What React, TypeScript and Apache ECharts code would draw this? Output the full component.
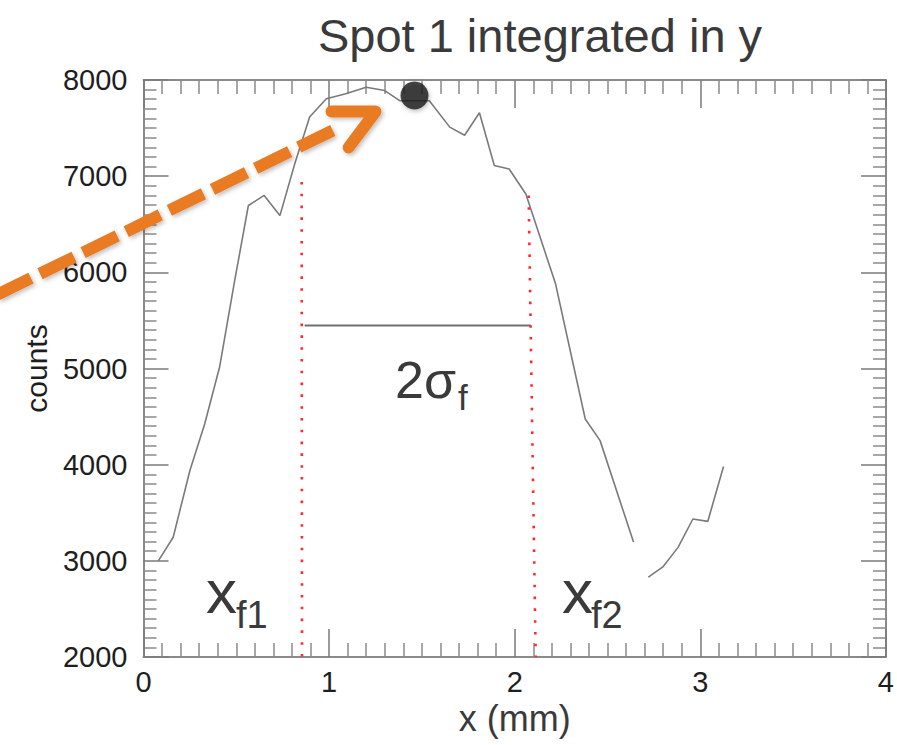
import React, { useEffect, useRef } from "react";
import * as echarts from "echarts";

// ---- data ----
const X_MIN = 0;
const X_MAX = 4;
const X_STEP = 1;
const Y_MIN = 2000;
const Y_MAX = 8000;
const Y_STEP = 1000;

// integrated profile, visible part left of the "x_f2" label
const segment1X = [0.08, 0.16, 0.25, 0.33, 0.41, 0.49, 0.565, 0.65, 0.735, 0.815, 0.895, 0.985, 1.085, 1.2, 1.3, 1.38, 1.54, 1.65, 1.73, 1.81, 1.89, 1.97, 2.06, 2.22, 2.38, 2.46, 2.64];
const segment1Counts = [3000, 3245, 3940, 4425, 5015, 5900, 6695, 6800, 6590, 7130, 7615, 7805, 7855, 7925, 7890, 7785, 7785, 7510, 7425, 7660, 7110, 7075, 6815, 5880, 4475, 4250, 3195];
// visible part right of the label
const segment2X = [2.72, 2.8, 2.88, 2.96, 3.04, 3.125];
const segment2Counts = [2830, 2940, 3140, 3435, 3410, 3980];

// peak marker
const peakX = [1.46];
const peakCounts = [7840];

// FWHM-like markers
const xf1X = [0.852, 0.854];
const xf1Counts = [6940, 2000];
const xf2X = [2.075, 2.113];
const xf2Counts = [6800, 2000];
const widthX = [0.868, 2.087];
const widthCounts = [5447, 5447];

// orange pointer arrow (in data units, drawn through the axis scales)
const arrowShaftX = [1.02, -0.86];
const arrowShaftCounts = [7475, 5700];
const arrowHeadX = [1.013, 1.25, 1.105];
const arrowHeadCounts = [7672, 7672, 7298];

const zip = (xs: number[], ys: number[]) => xs.map((x, i) => [x, ys[i]]);

const FONT = "'Liberation Sans', Arial, Helvetica, sans-serif";
const ORANGE = "#E97B22";

export default function App() {
  const ref = useRef<HTMLDivElement>(null);

  useEffect(() => {
    if (!ref.current) return;
    const chart = echarts.init(ref.current, undefined, { renderer: "svg" });

    const axisLine = { show: true, onZero: false, lineStyle: { color: "#8a8a8a", width: 2 } };
    const xTick = { show: true, inside: true, length: 28, lineStyle: { color: "#7a7a7a", width: 1.5 } };
    const xMinor = { show: true, splitNumber: 10, length: 14, lineStyle: { color: "#8a8a8a", width: 1.5 } };
    const yTick = { show: true, inside: true, length: 25, lineStyle: { color: "#7a7a7a", width: 1.5 } };
    const yMinor = { show: true, splitNumber: 10, length: 13, lineStyle: { color: "#8a8a8a", width: 1.5 } };

    const txt = (text: string, x: number, y: number, size: number, align = "left") => ({
      type: "text",
      x,
      y,
      silent: true,
      z: 100,
      style: {
        text,
        fontSize: size,
        fontFamily: FONT,
        fill: "#3a3a3a",
        textAlign: align,
        align,
        textVerticalAlign: "middle",
        verticalAlign: "middle",
      },
    });

    const plain = (v: number) => String(v);

    chart.setOption({
      animation: false,
      backgroundColor: "#ffffff",
      grid: { left: 143.5, right: 9.5, top: 80, bottom: 88, containLabel: false },
      xAxis: [
        {
          type: "value",
          min: X_MIN,
          max: X_MAX,
          interval: X_STEP,
          position: "bottom",
          axisLine,
          axisTick: xTick,
          minorTick: xMinor,
          splitLine: { show: false },
          axisLabel: { show: true, fontSize: 29, fontFamily: FONT, color: "#1e1e1e", margin: 10, formatter: plain },
          name: "x (mm)",
          nameLocation: "middle",
          nameGap: 43,
          nameTextStyle: { fontSize: 36, fontFamily: FONT, color: "#3a3a3a" },
        },
        {
          type: "value",
          min: X_MIN,
          max: X_MAX,
          interval: X_STEP,
          position: "top",
          axisLine,
          axisTick: xTick,
          minorTick: xMinor,
          splitLine: { show: false },
          axisLabel: { show: false },
        },
      ],
      yAxis: [
        {
          type: "value",
          min: Y_MIN,
          max: Y_MAX,
          interval: Y_STEP,
          position: "left",
          axisLine,
          axisTick: yTick,
          minorTick: yMinor,
          splitLine: { show: false },
          axisLabel: { show: true, fontSize: 29, fontFamily: FONT, color: "#1e1e1e", margin: 16, formatter: plain },
          name: "counts",
          nameLocation: "middle",
          nameGap: 92,
          nameTextStyle: { fontSize: 30, fontFamily: FONT, color: "#1e1e1e" },
        },
        {
          type: "value",
          min: Y_MIN,
          max: Y_MAX,
          interval: Y_STEP,
          position: "right",
          axisLine,
          axisTick: yTick,
          minorTick: yMinor,
          splitLine: { show: false },
          axisLabel: { show: false },
        },
      ],
      series: [
        {
          type: "line",
          data: zip(segment1X, segment1Counts),
          showSymbol: false,
          symbol: "none",
          silent: true,
          lineStyle: { color: "#7a7a7a", width: 1.6 },
          z: 2,
        },
        {
          type: "line",
          data: zip(segment2X, segment2Counts),
          showSymbol: false,
          symbol: "none",
          silent: true,
          lineStyle: { color: "#7a7a7a", width: 1.6 },
          z: 2,
        },
        {
          type: "line",
          data: zip(xf1X, xf1Counts),
          showSymbol: false,
          symbol: "none",
          silent: true,
          lineStyle: { color: "#ff2b2b", width: 2.6, type: [2.6, 9.2] },
          z: 3,
        },
        {
          type: "line",
          data: zip(xf2X, xf2Counts),
          showSymbol: false,
          symbol: "none",
          silent: true,
          lineStyle: { color: "#ff2b2b", width: 2.6, type: [2.6, 9.2] },
          z: 3,
        },
        {
          type: "line",
          data: zip(widthX, widthCounts),
          showSymbol: false,
          symbol: "none",
          silent: true,
          lineStyle: { color: "#707070", width: 2 },
          z: 3,
        },
        {
          type: "scatter",
          data: zip(peakX, peakCounts),
          symbol: "circle",
          symbolSize: 28,
          silent: true,
          itemStyle: {
            color: "#1c1c1c",
            shadowColor: "rgba(0,0,0,0.3)",
            shadowBlur: 4,
            shadowOffsetX: 1,
            shadowOffsetY: 2,
          },
          z: 6,
        },
      ],
    });

    const toPx = (xs: number[], ys: number[]) =>
      xs.map((x, i) => chart.convertToPixel({ xAxisIndex: 0, yAxisIndex: 0 }, [x, ys[i]]) as number[]);

    const shadow = {
      shadowColor: "rgba(0,0,0,0.25)",
      shadowBlur: 4,
      shadowOffsetX: 2,
      shadowOffsetY: 2,
    };

    chart.setOption({
      graphic: [
        {
          type: "polyline",
          silent: true,
          z: 90,
          shape: { points: toPx(arrowShaftX, arrowShaftCounts) },
          style: { stroke: ORANGE, lineWidth: 12, lineDash: [38, 10], lineCap: "butt", fill: null, ...shadow },
        },
        {
          type: "polyline",
          silent: true,
          z: 90,
          shape: { points: toPx(arrowHeadX, arrowHeadCounts) },
          style: { stroke: ORANGE, lineWidth: 12, lineCap: "round", lineJoin: "round", fill: null, ...shadow },
        },
        txt("Spot 1 integrated in y", 540, 35, 47, "center"),
        txt("2σ", 395, 380.3, 52),
        txt("f", 458, 397.9, 35),
        txt("x", 206, 591.8, 62),
        txt("f1", 236, 615.1, 38),
        txt("x", 562, 591.8, 62),
        txt("f2", 591, 615.1, 38),
      ],
    });

    return () => chart.dispose();
  }, []);

  return (
    <div
      ref={ref}
      style={{ position: "absolute", left: 0, top: 0, width: 897, height: 745, background: "#fff" }}
    />
  );
}
